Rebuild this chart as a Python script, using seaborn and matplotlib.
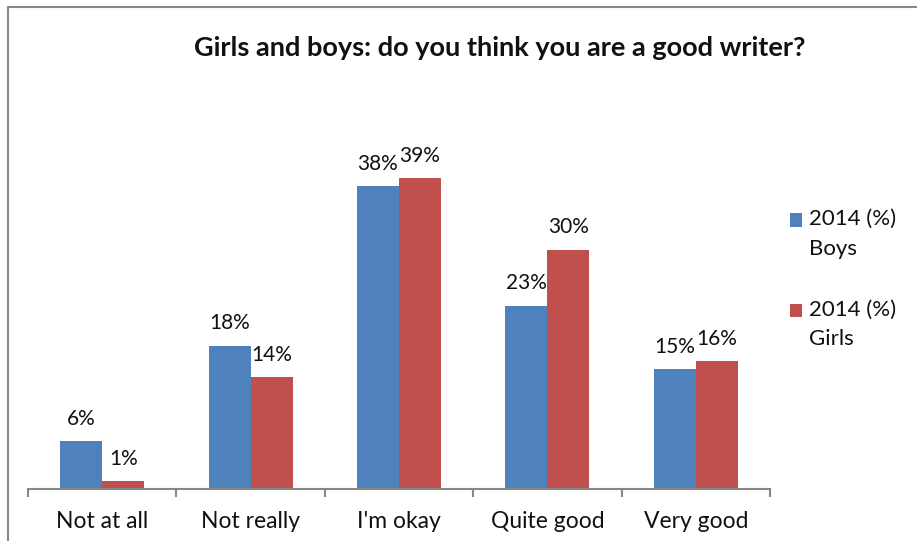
import matplotlib
matplotlib.use("Agg")
import matplotlib.pyplot as plt
import seaborn as sns
import pandas as pd

categories = ["Not at all", "Not really", "I'm okay", "Quite good", "Very good"]
boys = [6, 18, 38, 23, 15]
girls = [1, 14, 39, 30, 16]
series_names = ["2014 (%)\nBoys", "2014 (%)\nGirls"]
colors = ["#4F81BD", "#C0504D"]
title = "Girls and boys: do you think you are a good writer?"

df = pd.DataFrame({
    "category": categories * 2,
    "value": boys + girls,
    "series": [series_names[0]] * len(categories) + [series_names[1]] * len(categories),
})

sns.set_theme(style="white")
plt.rcParams["font.family"] = ["Lato", "DejaVu Sans"]

W, H = 917, 541
fig = plt.figure(figsize=(W / 100, H / 100), dpi=100)

fig.add_artist(plt.Line2D([8 / W, 8 / W], [0, 1 - 7 / H], color="#888888", lw=1.5, transform=fig.transFigure))
fig.add_artist(plt.Line2D([8 / W, 1], [1 - 7 / H, 1 - 7 / H], color="#888888", lw=1.5, transform=fig.transFigure))

px_per = 7.97
ymax = 50
ax_h = ymax * px_per
ax = fig.add_axes([28 / W, (H - 489) / H, 742 / W, ax_h / H])

sns.barplot(data=df, x="category", y="value", hue="series", palette=colors,
            width=0.566, saturation=1, ax=ax, legend=True, edgecolor="none", linewidth=0)

ax.set_xlim(-0.5, len(categories) - 0.5)
ax.set_ylim(0, ymax)
for c in ax.containers:
    ax.bar_label(c, labels=[f"{v:.0f}%" for v in c.datavalues], padding=9, fontsize=15, color="#111111")

for s in ["top", "right", "left"]:
    ax.spines[s].set_visible(False)
ax.spines["bottom"].set_color("#888888")
ax.spines["bottom"].set_linewidth(1.5)
ax.set_yticks([])
ax.set_xlabel("")
ax.set_ylabel("")
ax.set_xticks(range(len(categories)))
ax.set_xticklabels(categories, fontsize=16.5, color="#111111")
ax.tick_params(axis="x", which="major", length=0, pad=16)
ax.set_xticks([i - 0.5 for i in range(len(categories) + 1)], minor=True)
ax.tick_params(axis="x", which="minor", length=6, width=1.5, color="#888888", direction="out", bottom=True)

leg = ax.legend(loc="upper left", bbox_to_anchor=(790 / W, 1 - 209 / H), bbox_transform=fig.transFigure,
                frameon=False, fontsize=16, handlelength=0.54, handleheight=0.54, handletextpad=0.32,
                labelspacing=1.85, borderaxespad=0, borderpad=0)
for t in leg.get_texts():
    t.set_color("#111111")
    t.set_linespacing(1.6)
for h in leg.legend_handles:
    h.set_y(h.get_y() + 10)

fig.text(500 / W, 1 - 48 / H, title, ha="center", va="center", fontsize=19.5, fontweight="bold", color="#111111")

fig.savefig("out.png", dpi=100)
